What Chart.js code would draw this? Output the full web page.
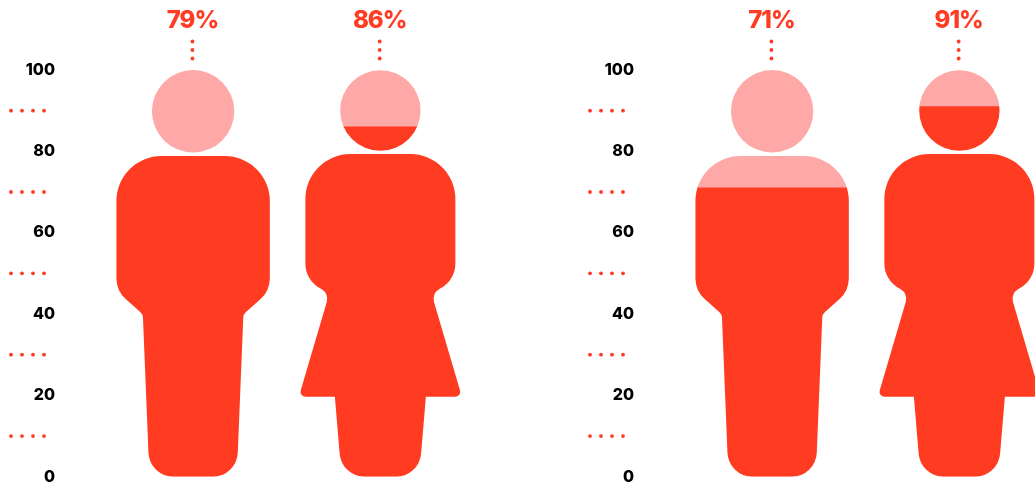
<!DOCTYPE html>
<html>
<head>
<meta charset="utf-8">
<script src="https://cdn.jsdelivr.net/npm/chart.js@4"></script>
<style>
html, body { margin: 0; padding: 0; background: #fff; overflow: hidden; width: 1035px; height: 484px; }
canvas { position: absolute; top: 0; }
#chartLeft { left: 0; }
#chartRight { left: 579px; }
</style>
</head>
<body>
<canvas id="chartLeft" width="474" height="484"></canvas>
<canvas id="chartRight" width="474" height="484"></canvas>
<script>
var categories = ['man', 'woman'];
var valuesLeft = [79, 86];
var valuesRight = [71, 91];
var yTicks = [0, 20, 40, 60, 80, 100];
var dottedTicks = [10, 30, 50, 70, 90];

var DARK = '#ff3b22';
var LIGHT = '#ffa8a8';

// outlines in px at full size, half of the figure, [dx, height above 0, corner radius]
var outlines = {
    man: {
        head: { r: 41.2, h: 365.4 },
        top: 320.7,
        side: [[76.7, 320.7, 45], [76.7, 185.7, 28], [50.3, 162.5, 8], [43.7, 0, 25]]
    },
    woman: {
        head: { r: 40.2, h: 366.2 },
        top: 322.7,
        side: [[75, 322.7, 45], [75, 197, 28], [51.2, 183, 11], [81.5, 80, 5], [45.5, 80, 0], [38.8, 0, 25]]
    }
};

function tracePerson(ctx, kind, cx, y0, k) {
    var o = outlines[kind];
    var pts = [];
    for (var i = 0; i < o.side.length; i++) {
        pts.push(o.side[i]);
    }
    for (var j = o.side.length - 1; j >= 0; j--) {
        pts.push([-o.side[j][0], o.side[j][1], o.side[j][2]]);
    }
    ctx.moveTo(cx, y0 - o.top * k);
    for (var n = 0; n < pts.length; n++) {
        var p = pts[n];
        var next = pts[n + 1] || [0, o.top];
        ctx.arcTo(cx + p[0] * k, y0 - p[1] * k, cx + next[0] * k, y0 - next[1] * k, p[2] * k);
    }
    ctx.closePath();
    var hy = y0 - o.head.h * k;
    ctx.moveTo(cx + o.head.r * k, hy);
    ctx.arc(cx, hy, o.head.r * k, 0, Math.PI * 2);
    ctx.closePath();
}

var personClip = {
    id: 'personClip',
    beforeDatasetsDraw: function(chart) {
        var ctx = chart.ctx;
        var y = chart.scales.y;
        var y0 = y.getPixelForValue(0);
        var k = (y0 - y.getPixelForValue(100)) / 406.7;
        ctx.save();
        ctx.beginPath();
        for (var i = 0; i < categories.length; i++) {
            tracePerson(ctx, categories[i], chart.scales.x.getPixelForValue(i), y0, k);
        }
        ctx.clip();
    },
    afterDatasetsDraw: function(chart) {
        chart.ctx.restore();
    }
};

function dot(ctx, x, y, r) {
    ctx.beginPath();
    ctx.arc(x, y, r, 0, Math.PI * 2);
    ctx.fill();
}

var decorations = {
    id: 'decorations',
    afterDraw: function(chart) {
        var ctx = chart.ctx;
        var values = chart.data.datasets[0].data;
        ctx.save();
        ctx.fillStyle = DARK;
        // dotted rows between the numbered ticks
        for (var i = 0; i < dottedTicks.length; i++) {
            var ty = chart.scales.y.getPixelForValue(dottedTicks[i]);
            for (var d = 0; d < 4; d++) {
                dot(ctx, 11 + d * 11, ty, 1.9);
            }
        }
        // percent labels and their dotted leaders
        ctx.textAlign = 'center';
        ctx.textBaseline = 'middle';
        ctx.font = '800 24px Inter';
        ctx.letterSpacing = '-1px';
        for (var c = 0; c < values.length; c++) {
            var cx = chart.scales.x.getPixelForValue(c) - 0.7;
            ctx.fillText(values[c] + '%', cx, 20.5);
            dot(ctx, cx, 41.5, 1.9);
            dot(ctx, cx, 50, 1.9);
            dot(ctx, cx, 58.5, 1.9);
        }
        ctx.restore();
    }
};

function makeChart(id, values) {
    var rest = [];
    for (var i = 0; i < values.length; i++) {
        rest.push(100 - values[i]);
    }
    return new Chart(document.getElementById(id), {
        type: 'bar',
        data: {
            labels: categories,
            datasets: [
                { data: values, backgroundColor: DARK, borderWidth: 0, barPercentage: 1, categoryPercentage: 1 },
                { data: rest, backgroundColor: LIGHT, borderWidth: 0, barPercentage: 1, categoryPercentage: 1 }
            ]
        },
        options: {
            responsive: false,
            animation: false,
            layout: { padding: { top: 70, bottom: 7.3, left: 0, right: 0 } },
            plugins: { legend: { display: false }, tooltip: { enabled: false } },
            scales: {
                x: { stacked: true, display: false },
                y: {
                    stacked: true,
                    min: 0,
                    max: 100,
                    afterBuildTicks: function(axis) {
                        axis.ticks = yTicks.map(function(v) { return { value: v }; });
                    },
                    afterFit: function(axis) {
                        axis.width = 99.5;
                        axis.paddingTop = 0;
                        axis.paddingBottom = 0;
                    },
                    grid: { display: false, drawTicks: false },
                    border: { display: false },
                    ticks: {
                        color: '#000',
                        padding: 44.5,
                        font: { family: 'Inter', weight: '800', size: 16 }
                    }
                }
            }
        },
        plugins: [personClip, decorations]
    });
}

makeChart('chartLeft', valuesLeft);
makeChart('chartRight', valuesRight);
</script>
</body>
</html>
